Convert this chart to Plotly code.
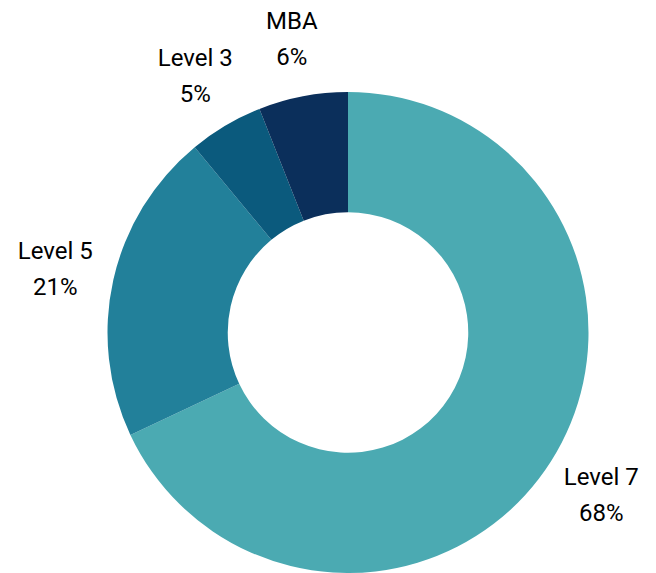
import math
import plotly.graph_objects as go

labels = ["Level 7", "Level 5", "Level 3", "MBA"]
values = [68, 21, 5, 6]
colors = ["#4BAAB2", "#22809A", "#0B5A7D", "#0B2F5B"]

W, H = 656, 573
CX, CY, R = 348, 332.5, 240.5   # pie centre / radius in pixels
LABEL_DIST = 300                # label distance from the centre, px
TEXT_DY = 3.5                   # vertical nudge of the labels, px
LINE_GAP = 18                   # half the gap between label lines, px

total = sum(values)
mids, cum = [], 0
for v in values:
    mids.append((cum + v / 2) / total * 2 * math.pi)
    cum += v
lx = [CX + LABEL_DIST * math.sin(a) for a in mids]
ly = [CY + TEXT_DY - LABEL_DIST * math.cos(a) for a in mids]
pct_text = [f"{round(v / total * 100)}%" for v in values]

fig = go.Figure()
fig.add_trace(go.Pie(
    labels=labels,
    values=values,
    hole=0.5,
    sort=False,
    direction="clockwise",
    rotation=0,
    marker=dict(colors=colors, line=dict(width=0)),
    textinfo="none",
    showlegend=False,
    hoverinfo="label+percent",
    domain=dict(x=[(CX - R) / W, (CX + R) / W], y=[(H - CY - R) / H, (H - CY + R) / H]),
))

font = dict(family="Roboto", size=24, color="#000000")
fig.add_trace(go.Scatter(
    x=lx, y=[y - LINE_GAP for y in ly], mode="text", text=labels,
    textposition="middle center", textfont=font, hoverinfo="skip",
    showlegend=False, cliponaxis=False,
))
fig.add_trace(go.Scatter(
    x=lx, y=[y + LINE_GAP for y in ly], mode="text", text=pct_text,
    textposition="middle center", textfont=font, hoverinfo="skip",
    showlegend=False, cliponaxis=False,
))

fig.update_layout(
    width=W,
    height=H,
    margin=dict(l=0, r=0, t=0, b=0),
    paper_bgcolor="white",
    plot_bgcolor="rgba(0,0,0,0)",
    font=dict(family="Roboto", size=24, color="#000000"),
    xaxis=dict(visible=False, range=[0, W], fixedrange=True),
    yaxis=dict(visible=False, range=[H, 0], fixedrange=True),
)

fig.write_html(
    "out.html",
    config={"displayModeBar": False},
    post_script="document.body.style.margin='0';document.body.style.overflow='hidden';",
)
